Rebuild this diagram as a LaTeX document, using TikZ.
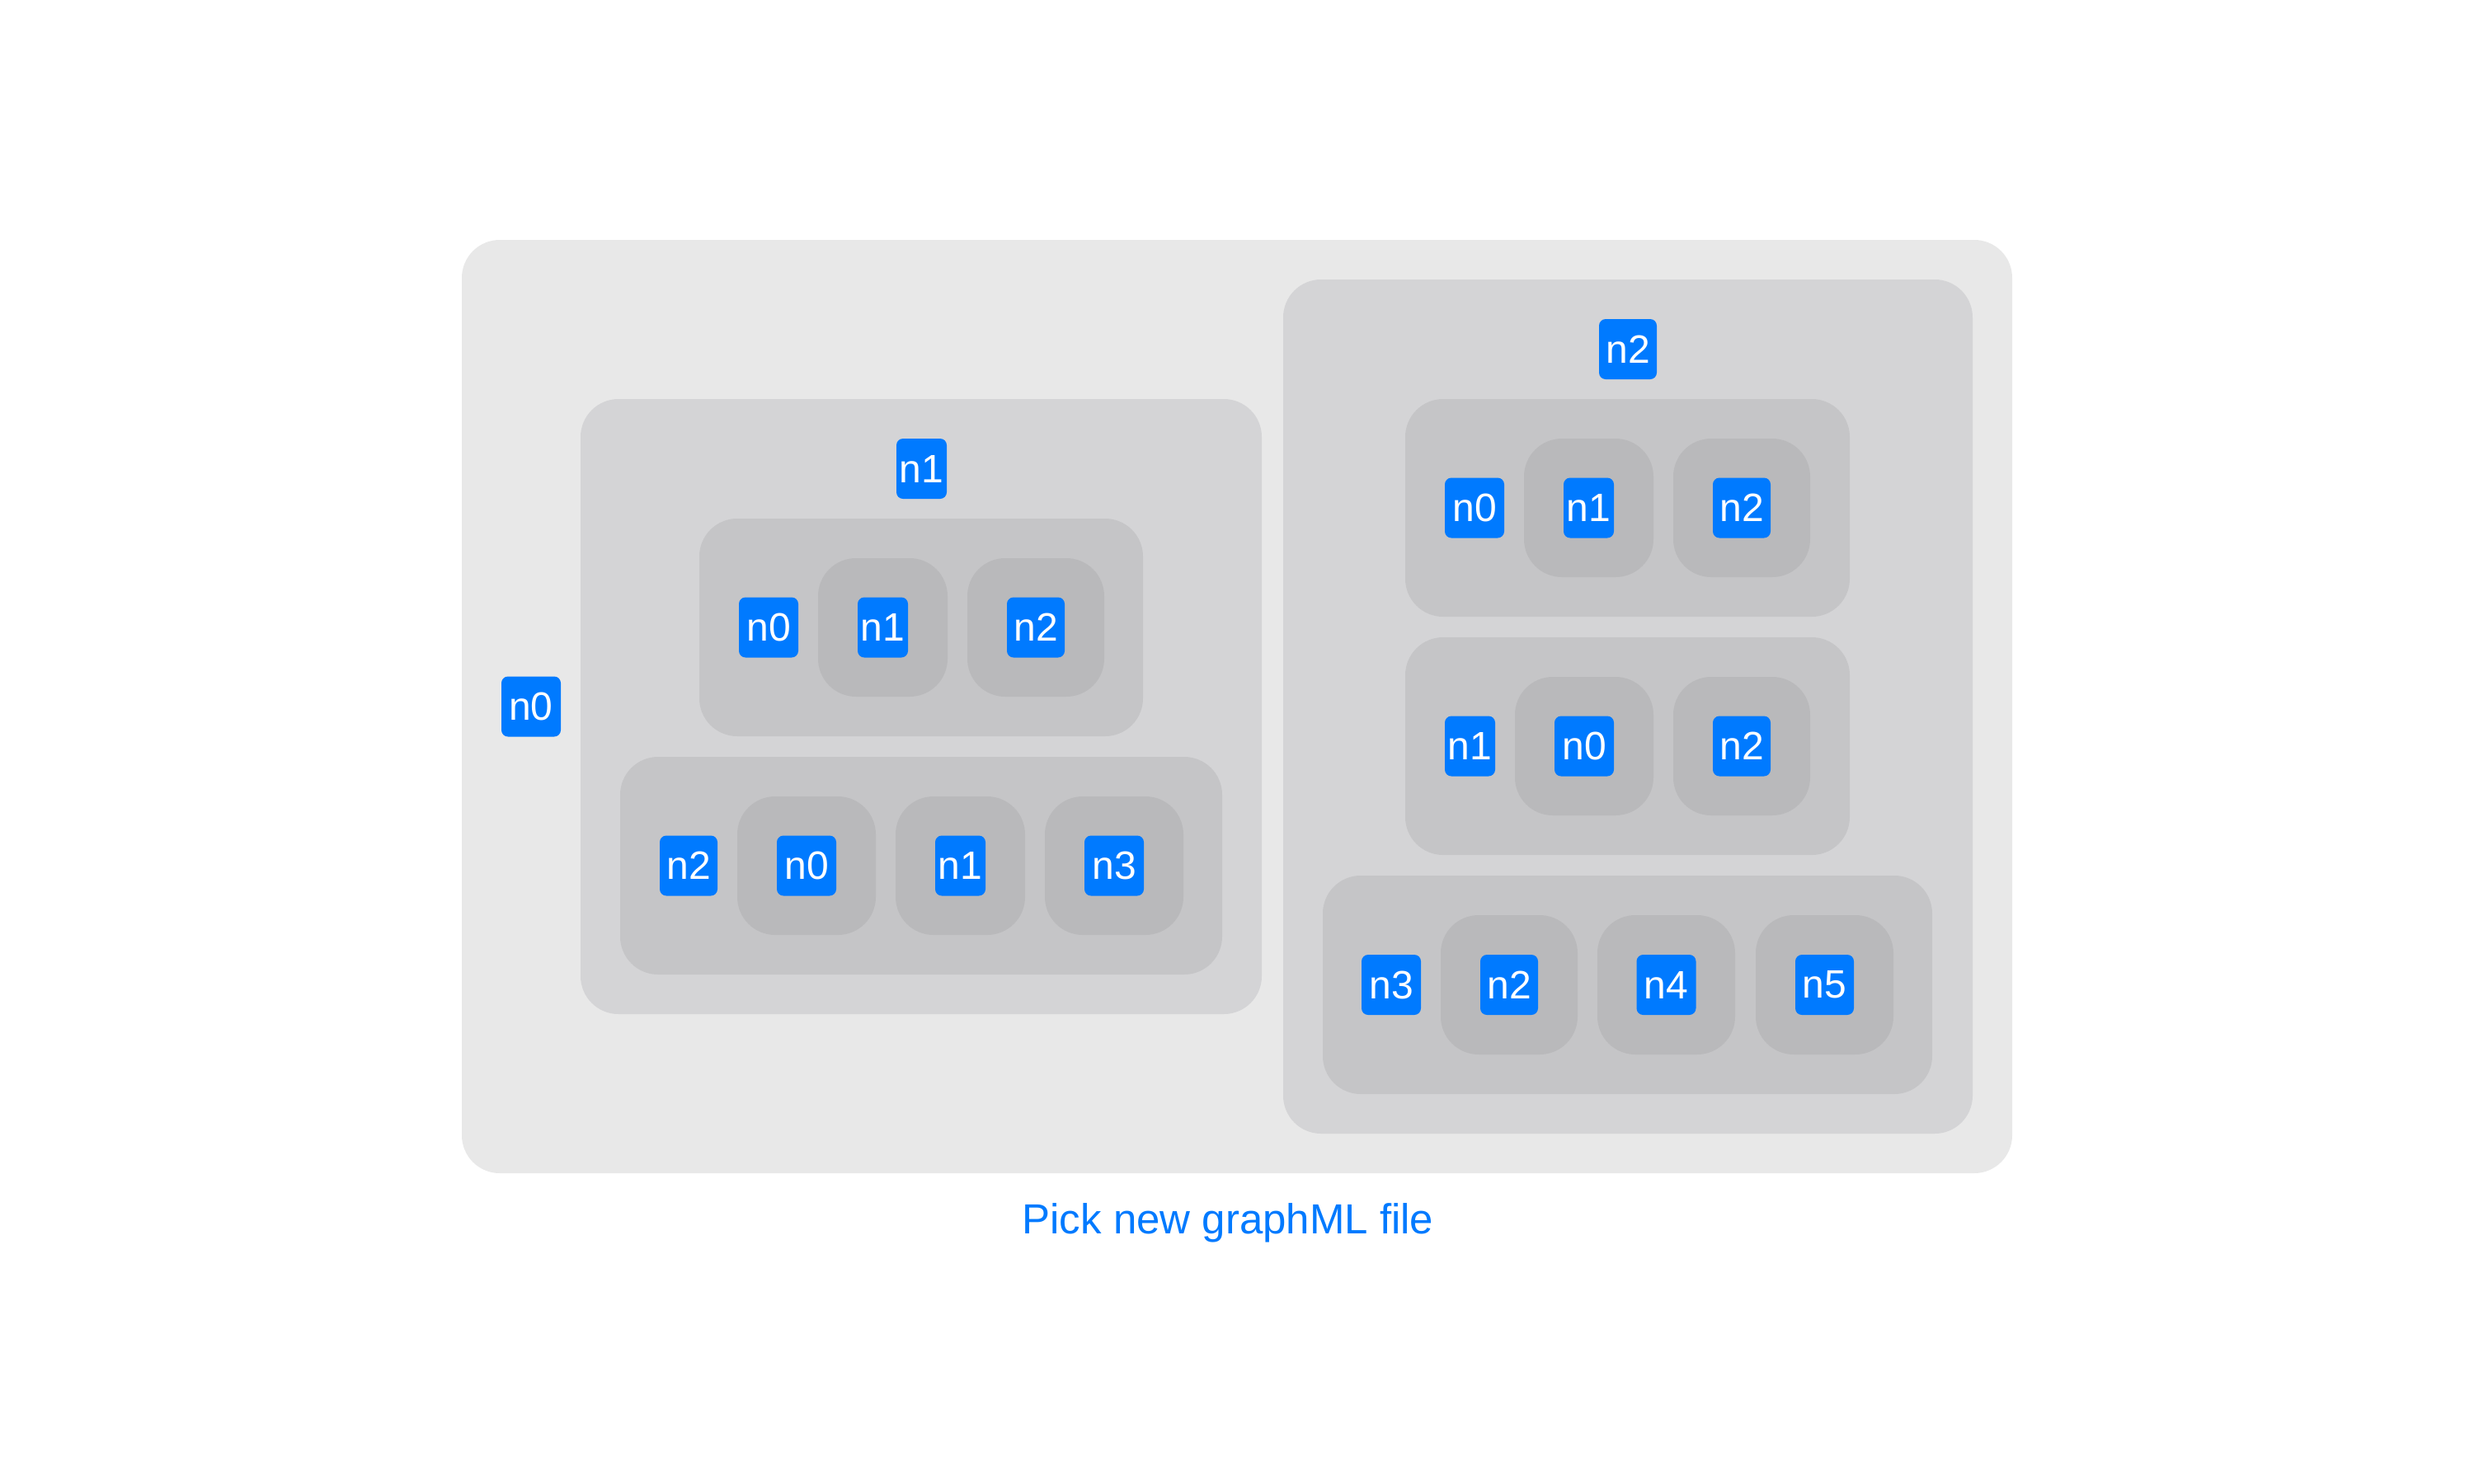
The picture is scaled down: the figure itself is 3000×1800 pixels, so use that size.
\documentclass[tikz,border=0pt]{standalone}
\usepackage{fontspec}
\setmainfont{Liberation Sans}
\usetikzlibrary{fit}
\definecolor{lvlA}{HTML}{E8E8E8}
\definecolor{lvlB}{HTML}{D4D4D6}
\definecolor{lvlC}{HTML}{C5C5C7}
\definecolor{lvlD}{HTML}{B9B9BB}
\definecolor{appleblue}{HTML}{007AFF}
\begin{document}
\begin{tikzpicture}[x=0.5pt,y=-0.5pt,
  box/.style={inner sep=0pt, rounded corners=23pt, draw=none},
  lab/.style={fill=appleblue, text=white, rounded corners=4pt, inner sep=0pt,
    minimum height=36.5pt, minimum width=#1, font=\fontsize{24}{24}\selectfont},
  lab/.default=36pt,
  caption/.style={text=appleblue, inner sep=0pt, anchor=base, font=\fontsize{25.5}{25.5}\selectfont}
]
\fill[white] (0,0) rectangle (3000,1800);
\useasboundingbox (0,0) rectangle (3000,1800);

% outer level
\node[box, fill=lvlA, fit={(560,291) (2440,1423)}] (outer) {};
\node[lab=36pt] (o-n0) at (644,857) {n0};

% left group n1
\node[box, fill=lvlB, fit={(704,484) (1530,1230)}] (L) {};
\node[lab=30.5pt] (L-n1) at (1117.5,568.5) {n1};

\node[box, fill=lvlC, fit={(848,629) (1386,893)}] (La) {};
\node[lab=36pt] (La-n0) at (932,761) {n0};
\node[box, fill=lvlD, fit={(992,677) (1149,845)}] (La-b1) {};
\node[lab=30.5pt] (La-n1) at (1070.5,761) {n1};
\node[box, fill=lvlD, fit={(1173,677) (1339,845)}] (La-b2) {};
\node[lab=35pt] (La-n2) at (1256,761) {n2};

\node[box, fill=lvlC, fit={(752,918) (1482,1182)}] (Lb) {};
\node[lab=35pt] (Lb-n2) at (835,1050) {n2};
\node[box, fill=lvlD, fit={(894,966) (1062,1134)}] (Lb-b0) {};
\node[lab=36pt] (Lb-n0) at (978,1050) {n0};
\node[box, fill=lvlD, fit={(1086,966) (1243,1134)}] (Lb-b1) {};
\node[lab=30.5pt] (Lb-n1) at (1164.5,1050) {n1};
\node[box, fill=lvlD, fit={(1267,966) (1435,1134)}] (Lb-b3) {};
\node[lab=36pt] (Lb-n3) at (1351,1050) {n3};

% right group n2
\node[box, fill=lvlB, fit={(1556,339) (2392,1375)}] (R) {};
\node[lab=35pt] (R-n2) at (1974,423.5) {n2};

\node[box, fill=lvlC, fit={(1704,484) (2243,748)}] (Ra) {};
\node[lab=36pt] (Ra-n0) at (1788,616) {n0};
\node[box, fill=lvlD, fit={(1848,532) (2005,700)}] (Ra-b1) {};
\node[lab=30.5pt] (Ra-n1) at (1926.5,616) {n1};
\node[box, fill=lvlD, fit={(2029,532) (2195,700)}] (Ra-b2) {};
\node[lab=35pt] (Ra-n2) at (2112,616) {n2};

\node[box, fill=lvlC, fit={(1704,773) (2243,1037)}] (Rb) {};
\node[lab=30.5pt] (Rb-n1) at (1782.5,905) {n1};
\node[box, fill=lvlD, fit={(1837,821) (2005,989)}] (Rb-b0) {};
\node[lab=36pt] (Rb-n0) at (1921,905) {n0};
\node[box, fill=lvlD, fit={(2029,821) (2195,989)}] (Rb-b2) {};
\node[lab=35pt] (Rb-n2) at (2112,905) {n2};

\node[box, fill=lvlC, fit={(1604,1062) (2343,1327)}] (Rc) {};
\node[lab=36pt] (Rc-n3) at (1687,1194.5) {n3};
\node[box, fill=lvlD, fit={(1747,1110) (1913,1279)}] (Rc-b2) {};
\node[lab=35pt] (Rc-n2) at (1830,1194.5) {n2};
\node[box, fill=lvlD, fit={(1937,1110) (2104,1279)}] (Rc-b4) {};
\node[lab=36pt] (Rc-n4) at (2020.5,1194.5) {n4};
\node[box, fill=lvlD, fit={(2129,1110) (2296,1279)}] (Rc-b5) {};
\node[lab=35.5pt] (Rc-n5) at (2212.5,1194.5) {n5};

% caption
\node[caption] (pick) at (1489,1496.5) {Pick new graphML file};
\end{tikzpicture}
\end{document}
